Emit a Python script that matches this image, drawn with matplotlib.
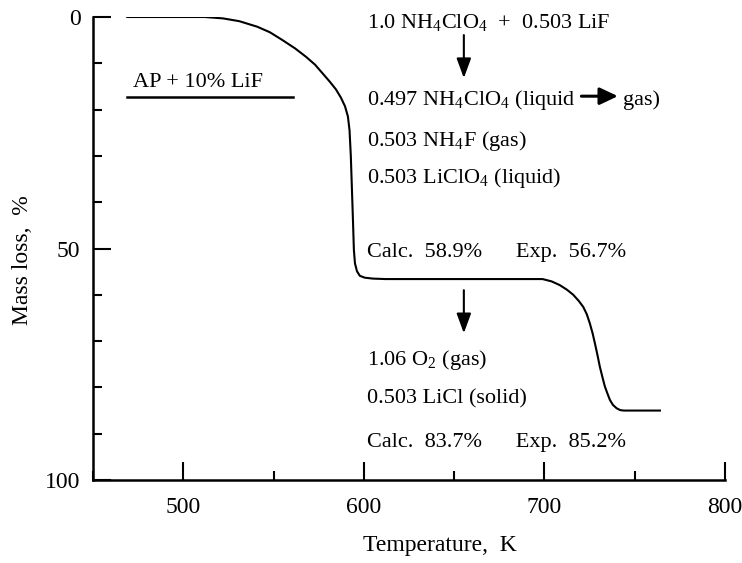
import numpy as np
import matplotlib
matplotlib.use('Agg')
import matplotlib.pyplot as plt
from matplotlib.ticker import MultipleLocator

plt.rcParams['font.family'] = ['Liberation Serif', 'DejaVu Serif']
plt.rcParams['mathtext.fontset'] = 'custom'
plt.rcParams['mathtext.rm'] = 'Liberation Serif'

# TG curve of AP + 10% LiF
temp = [469, 490, 512, 522, 531, 541, 548, 555, 562, 568, 573, 577,
        581, 584.5, 587.3, 589.6, 591.2, 592.1, 592.8, 593.4, 594.0, 594.5,
        595.1, 596.2, 597.8, 600.5, 605, 612, 650, 699,
        704, 708.5, 712.5, 716, 719, 721.5, 723.5, 725.2, 726.7, 728,
        729.4, 730.7, 732.1, 733.5, 735, 736.3, 738, 740, 742, 744, 764]
mass_loss = [0, 0, 0, 0.3, 0.9, 2.1, 3.3, 5.0, 6.8, 8.6, 10.3, 12.1,
             13.9, 15.6, 17.4, 19.3, 21.5, 24.5, 30, 37, 44, 50.3,
             53.2, 54.9, 55.9, 56.3, 56.5, 56.6, 56.6, 56.6,
             57.1, 57.9, 58.9, 60.0, 61.3, 62.6, 64.2, 66.2, 68.3, 70.5,
             73.0, 75.5, 77.7, 79.8, 81.4, 82.7, 83.8, 84.5, 84.9, 85.0, 85.0]

fig, ax = plt.subplots(figsize=(7.42, 5.63), dpi=100)
fig.subplots_adjust(left=0.1253, right=0.977, bottom=0.1474, top=0.9698)

ax.plot(temp, mass_loss, color='black', lw=1.5)

ax.set_xlim(450, 800)
ax.set_ylim(100, 0)
ax.spines['top'].set_visible(False)
ax.spines['right'].set_visible(False)
for s in ['left', 'bottom']:
    ax.spines[s].set_linewidth(1.8)

ax.xaxis.set_major_locator(MultipleLocator(100))
ax.xaxis.set_minor_locator(MultipleLocator(50))
ax.yaxis.set_major_locator(MultipleLocator(50))
ax.yaxis.set_minor_locator(MultipleLocator(10))
ax.tick_params(which='major', direction='in', length=13, width=1.5, labelsize=17)
ax.tick_params(which='minor', direction='in', length=6.5, width=1.5)
ax.tick_params(axis='y', which='major', pad=9)
ax.tick_params(axis='x', which='major', pad=12)

ax.set_xlabel('Temperature,  K', fontsize=17)
ax.set_ylabel('Mass loss,  %', fontsize=17, va='center', ha='center')
ax.xaxis.set_label_coords(0.549, -0.118)
ax.yaxis.set_label_coords(-0.112, 0.475)

# sample label with underline
ax.text(472, 15.1, 'AP + 10% LiF', fontsize=16, ha='left', va='baseline')
ax.plot([469, 561], [17.2, 17.2], color='black', lw=1.8)

fs = 16
x0 = 602
down = dict(arrowstyle='-|>,head_length=0.6,head_width=0.22', color='black',
            lw=1.5, mutation_scale=20, shrinkA=0, shrinkB=0)
ax.text(x0, 2.4, r'1.0 NH$_4$ClO$_4$  +  0.503 LiF', fontsize=fs, va='baseline')
ax.annotate('', xy=(655.4, 13.2), xytext=(655.4, 3.9), arrowprops=down)
ax.text(x0, 19.0, r'0.497 NH$_4$ClO$_4$ (liquid', fontsize=fs, va='baseline')
ax.annotate('', xy=(740.7, 17.1), xytext=(720.5, 17.1),
            arrowprops=dict(arrowstyle='-|>,head_length=0.55,head_width=0.26',
                            color='black', lw=2.2, mutation_scale=20,
                            shrinkA=0, shrinkB=0))
ax.text(743.5, 19.0, 'gas)', fontsize=fs, va='baseline')
ax.text(x0, 27.9, r'0.503 NH$_4$F (gas)', fontsize=fs, va='baseline')
ax.text(x0, 35.9, r'0.503 LiClO$_4$ (liquid)', fontsize=fs, va='baseline')
ax.text(x0, 51.8, 'Calc.  58.9%      Exp.  56.7%', fontsize=fs, va='baseline')
ax.annotate('', xy=(655.4, 68.3), xytext=(655.4, 59.0), arrowprops=down)
ax.text(x0, 75.2, r'1.06 O$_2$ (gas)', fontsize=fs, va='baseline')
ax.text(x0, 83.4, '0.503 LiCl (solid)', fontsize=fs, va='baseline')
ax.text(x0, 92.9, 'Calc.  83.7%      Exp.  85.2%', fontsize=fs, va='baseline')

plt.savefig('out.png', dpi=100)
